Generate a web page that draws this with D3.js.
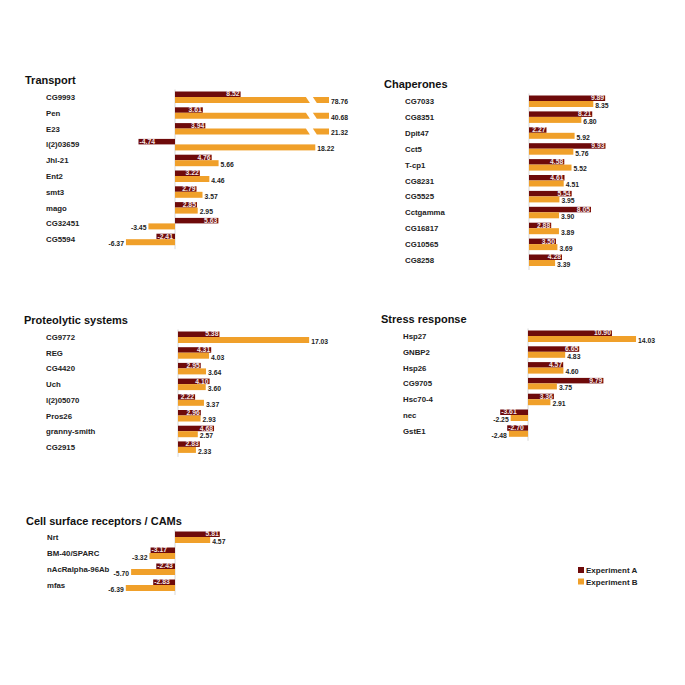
<!DOCTYPE html>
<html>
<head>
<meta charset="utf-8">
<script src="https://cdn.jsdelivr.net/npm/d3@7"></script>
<style>
  body { margin: 0; background: #fff; }
  svg text { font-family: "Liberation Sans", Arial, Helvetica, sans-serif; font-weight: bold; }
</style>
</head>
<body>
<div id="chart"></div>
<script>
// --- data ---
const transportGenes = ['CG9993', 'Pen', 'E23', 'l(2)03659', 'Jhl-21', 'Ent2', 'smt3', 'mago', 'CG32451', 'CG5594']
const transportA = [8.52, 3.61, 3.94, -4.74, 4.76, 3.22, 2.79, 2.85, 5.63, -2.41]
const transportB = [78.76, 40.68, 21.32, 18.22, 5.66, 4.46, 3.57, 2.95, -3.45, -6.37]

const chaperoneGenes = ['CG7033', 'CG8351', 'Dpit47', 'Cct5', 'T-cp1', 'CG8231', 'CG5525', 'Cctgamma', 'CG16817', 'CG10565', 'CG8258']
const chaperoneA = [9.89, 8.21, 2.27, 9.93, 4.58, 4.61, 5.54, 8.05, 2.88, 3.50, 4.28]
const chaperoneB = [8.35, 6.80, 5.92, 5.76, 5.52, 4.51, 3.95, 3.90, 3.89, 3.69, 3.39]

const proteoGenes = ['CG9772', 'REG', 'CG4420', 'Uch', 'l(2)05070', 'Pros26', 'granny-smith', 'CG2915']
const proteoA = [5.38, 4.31, 2.95, 4.10, 2.22, 2.96, 4.68, 2.83]
const proteoB = [17.03, 4.03, 3.64, 3.60, 3.37, 2.93, 2.57, 2.33]

const stressGenes = ['Hsp27', 'GNBP2', 'Hsp26', 'CG9705', 'Hsc70-4', 'nec', 'GstE1']
const stressA = [10.90, 6.65, 4.57, 9.79, 3.36, -3.61, -2.70]
const stressB = [14.03, 4.83, 4.60, 3.75, 2.91, -2.25, -2.48]

const cellGenes = ['Nrt', 'BM-40/SPARC', 'nAcRalpha-96Ab', 'mfas']
const cellA = [5.81, -3.17, -2.43, -2.83]
const cellB = [4.57, -3.32, -5.70, -6.39]

const seriesNames = ['Experiment A', 'Experiment B']
const colA = '#6e0a0a'
const colB = '#f0a02a'

// axis is cut at 20, bars beyond are drawn broken
const axisMax = 20
const breakLo = 17.0
const breakHi = 17.9

const panels = [
  { title: 'Transport', genes: transportGenes, a: transportA, b: transportB,
    tx: 25, ty: 84, lx: 46, zx: 175, y0: 97, step: 15.8 },
  { title: 'Chaperones', genes: chaperoneGenes, a: chaperoneA, b: chaperoneB,
    tx: 384, ty: 88, lx: 405, zx: 529, y0: 101, step: 15.9 },
  { title: 'Proteolytic systems', genes: proteoGenes, a: proteoA, b: proteoB,
    tx: 24, ty: 324, lx: 46, zx: 178, y0: 337, step: 15.7 },
  { title: 'Stress response', genes: stressGenes, a: stressA, b: stressB,
    tx: 381, ty: 323, lx: 403, zx: 528, y0: 336, step: 15.8 },
  { title: 'Cell surface receptors / CAMs', genes: cellGenes, a: cellA, b: cellB,
    tx: 26, ty: 525, lx: 47, zx: 175, y0: 537, step: 16 }
]

const W = 685, H = 685
const pxPerUnit = 7.7
const hA = 5.5, hB = 6

const svg = d3.select('#chart').append('svg')
  .attr('width', W).attr('height', H)

// plain hyphen minus like the original
const fmt = (v) => v.toFixed(2)

panels.forEach((p) => {
  const g = svg.append('g')
  const x = d3.scaleLinear()
    .domain([0, axisMax])
    .range([p.zx, p.zx + axisMax * pxPerUnit])
  const y = d3.scaleLinear()
    .domain([0, p.genes.length - 1])
    .range([p.y0, p.y0 + (p.genes.length - 1) * p.step])

  g.append('text')
    .attr('x', p.tx).attr('y', p.ty)
    .attr('font-size', 11)
    .attr('fill', '#111')
    .text(p.title)

  // zero line
  g.append('line')
    .attr('x1', x(0)).attr('x2', x(0))
    .attr('y1', y(0) - hA - 2)
    .attr('y2', y(p.genes.length - 1) + hB + 4)
    .attr('stroke', '#d8d8d8')
    .attr('stroke-width', 1)

  const rows = p.genes.map((gene, i) => ({ gene: gene, a: p.a[i], b: p.b[i], i: i }))

  g.selectAll('text.gene')
    .data(rows)
    .enter()
    .append('text')
    .attr('class', 'gene')
    .attr('x', p.lx)
    .attr('y', (d) => y(d.i) + 3)
    .attr('font-size', 7.8)
    .attr('fill', '#222')
    .text((d) => d.gene)

  // experiment A bars
  g.selectAll('rect.a')
    .data(rows)
    .enter()
    .append('rect')
    .attr('class', 'a')
    .attr('x', (d) => Math.min(x(0), x(d.a)))
    .attr('y', (d) => y(d.i) - hA)
    .attr('width', (d) => Math.abs(x(d.a) - x(0)))
    .attr('height', hA)
    .attr('fill', colA)

  g.selectAll('text.a')
    .data(rows)
    .enter()
    .append('text')
    .attr('class', 'a')
    .attr('x', (d) => d.a >= 0 ? x(d.a) - 1 : x(d.a) + 1)
    .attr('y', (d) => y(d.i) - 0.6)
    .attr('text-anchor', (d) => d.a >= 0 ? 'end' : 'start')
    .attr('font-size', 6.8)
    .attr('fill', '#f3e6e6')
    .text((d) => fmt(d.a))

  // experiment B bars, the big ones get a break
  rows.forEach((d) => {
    const top = y(d.i), bot = y(d.i) + hB
    if (d.b > axisMax) {
      const x1 = x(breakLo), x2 = x(breakHi), xe = x(axisMax)
      g.append('polygon')
        .attr('points', [[x(0), top], [x1, top], [x1 + 4, bot], [x(0), bot]].join(' '))
        .attr('fill', colB)
      g.append('polygon')
        .attr('points', [[x2, top], [xe, top], [xe, bot], [x2 + 4, bot]].join(' '))
        .attr('fill', colB)
    } else {
      g.append('rect')
        .attr('x', Math.min(x(0), x(d.b)))
        .attr('y', top)
        .attr('width', Math.abs(x(d.b) - x(0)))
        .attr('height', hB)
        .attr('fill', colB)
    }
    const xv = x(Math.min(d.b, axisMax))
    g.append('text')
      .attr('x', d.b >= 0 ? xv + 2 : xv - 2)
      .attr('y', bot + 0.8)
      .attr('text-anchor', d.b >= 0 ? 'start' : 'end')
      .attr('font-size', 6.8)
      .attr('fill', '#222')
      .text(fmt(d.b))
  })
})

// legend
const legend = svg.append('g')
seriesNames.forEach((name, i) => {
  legend.append('rect')
    .attr('x', 578).attr('y', 567 + i * 11.5)
    .attr('width', 6).attr('height', 6)
    .attr('fill', i === 0 ? colA : colB)
  legend.append('text')
    .attr('x', 586).attr('y', 573 + i * 11.5)
    .attr('font-size', 8)
    .attr('fill', '#222')
    .text(name)
})
</script>
</body>
</html>
